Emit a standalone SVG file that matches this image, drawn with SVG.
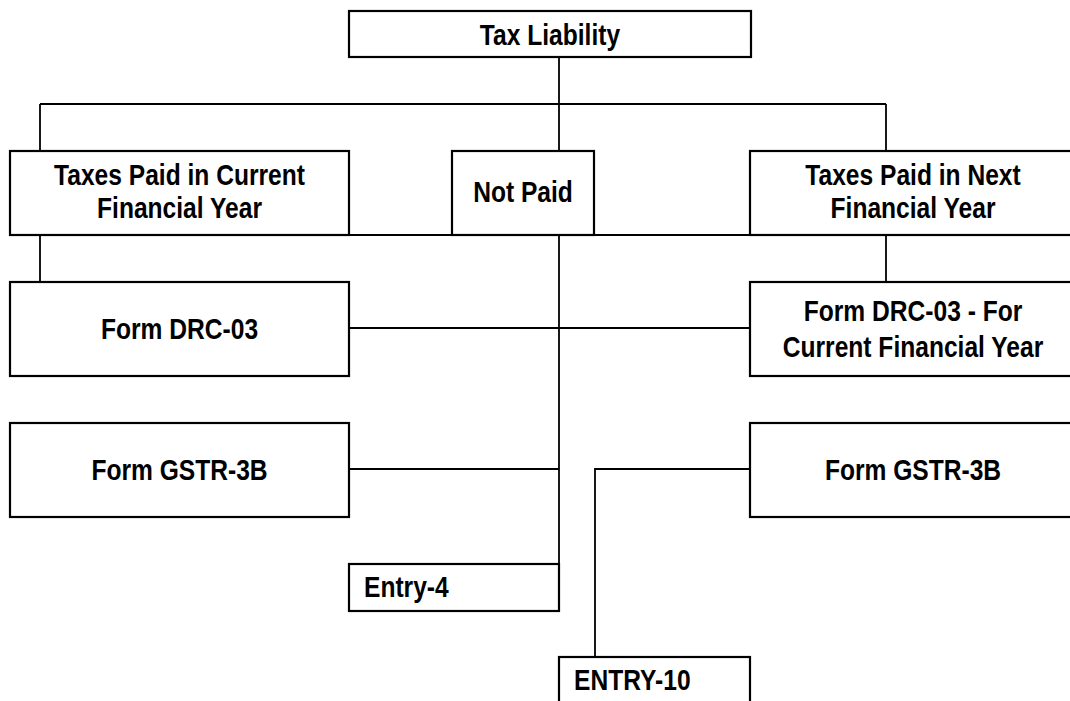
<svg xmlns="http://www.w3.org/2000/svg" width="1070" height="701" viewBox="0 0 1070 701">
<style>
.box{fill:#fff;stroke:#000;stroke-width:2.2}
.ln{fill:none;stroke:#000;stroke-width:1.8}
text{font-family:"Liberation Sans",Arial,sans-serif;font-weight:bold;font-size:24.6px;fill:#000}
.c{text-anchor:middle}
</style>
<rect width="1070" height="701" fill="#fff"/>
<g id="connectors">
<path class="ln" d="M559 57V104M40 104H886M40 104V151M559 104V151M886 104V151"/>
<path class="ln" d="M10 235H1070"/>
<path class="ln" d="M40 235V282M886 235V282M559 235V564"/>
<path class="ln" d="M349 328H750"/>
<path class="ln" d="M349 469H559M750 469H595V657"/>
</g>
<g id="tax-liability"><rect class="box" x="349" y="11" width="402" height="46"/><text class="c" transform="translate(550 45) scale(1 1.18)">Tax Liability</text></g>
<g id="paid-current"><rect class="box" x="10" y="151" width="339" height="84"/><text class="c" transform="translate(179.5 185) scale(1 1.18)">Taxes Paid in Current</text><text class="c" transform="translate(179.5 218) scale(1 1.18)">Financial Year</text></g>
<g id="not-paid"><rect class="box" x="452" y="151" width="142" height="84"/><text class="c" transform="translate(523 202) scale(1 1.18)">Not Paid</text></g>
<g id="paid-next"><rect class="box" x="750" y="151" width="326" height="84"/><text class="c" transform="translate(913 185) scale(1 1.18)">Taxes Paid in Next</text><text class="c" transform="translate(913 218) scale(1 1.18)">Financial Year</text></g>
<g id="drc03-left"><rect class="box" x="10" y="282" width="339" height="94"/><text class="c" transform="translate(179.5 339) scale(1 1.18)">Form DRC-03</text></g>
<g id="drc03-right"><rect class="box" x="750" y="282" width="326" height="94"/><text class="c" transform="translate(913 321) scale(1 1.18)">Form DRC-03 - For</text><text class="c" transform="translate(913 357) scale(1 1.18)">Current Financial Year</text></g>
<g id="gstr3b-left"><rect class="box" x="10" y="423" width="339" height="94"/><text class="c" transform="translate(179.5 480) scale(1 1.18)">Form GSTR-3B</text></g>
<g id="gstr3b-right"><rect class="box" x="750" y="423" width="326" height="94"/><text class="c" transform="translate(913 480) scale(1 1.18)">Form GSTR-3B</text></g>
<g id="entry-4"><rect class="box" x="349" y="564" width="210" height="47"/><text transform="translate(364 597) scale(1 1.18)">Entry-4</text></g>
<g id="entry-10"><rect class="box" x="559" y="657" width="191" height="60"/><text transform="translate(574 690) scale(1 1.18)">ENTRY-10</text></g>
</svg>
